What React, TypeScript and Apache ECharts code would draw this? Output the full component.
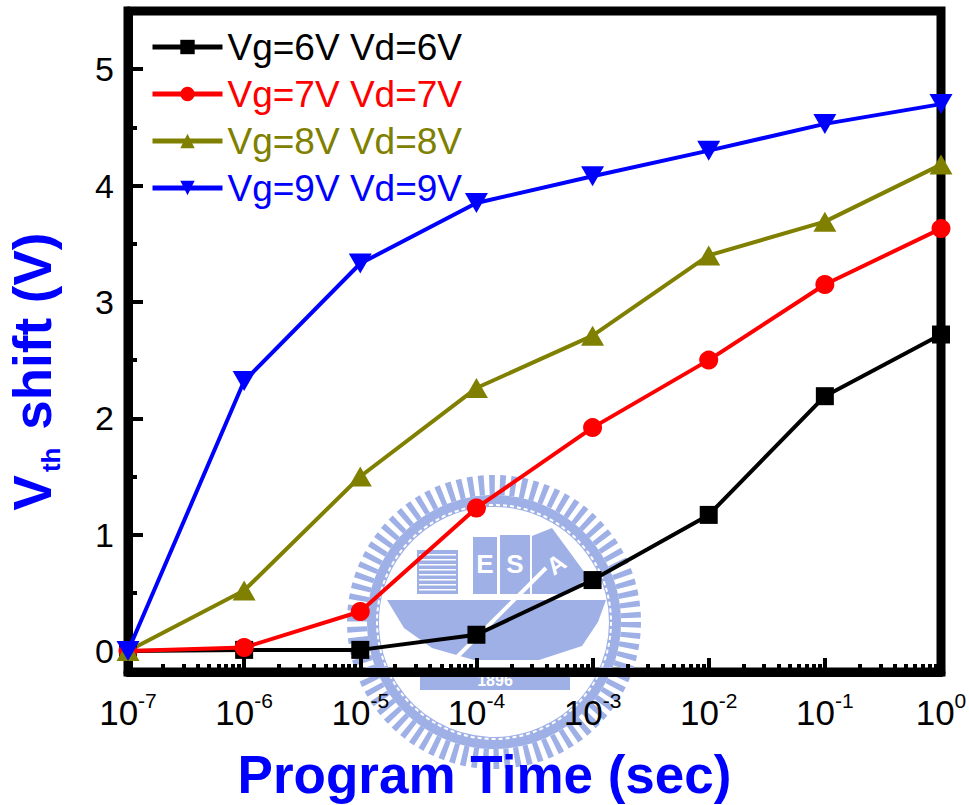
import React, { useEffect, useRef } from 'react';
import * as echarts from 'echarts';

// ---------- data ----------
const times = [1e-7, 1e-6, 1e-5, 1e-4, 1e-3, 1e-2, 1e-1, 1];
const seriesNames = ['Vg=6V Vd=6V', 'Vg=7V Vd=7V', 'Vg=8V Vd=8V', 'Vg=9V Vd=9V'];
const vg6 = [0, 0.01, 0.01, 0.14, 0.61, 1.17, 2.19, 2.72];
const vg7 = [0, 0.03, 0.34, 1.23, 1.92, 2.5, 3.15, 3.63];
const vg8 = [0, 0.52, 1.5, 2.26, 2.71, 3.4, 3.69, 4.18];
const vg9 = [0, 2.32, 3.33, 3.85, 4.08, 4.3, 4.53, 4.7];
const yTickLabels = [0, 1, 2, 3, 4, 5];
const yMinorTicks = [0.5, 1.5, 2.5, 3.5, 4.5];
const decadeExponents = [-7, -6, -5, -4, -3, -2, -1];
const minorMultipliers = [2, 3, 4, 5, 6, 7, 8, 9];

const colors = ['#000000', '#ff0000', '#808000', '#0000ff'];
const FONT = '"Liberation Sans", Arial, Helvetica, sans-serif';
const LOGO = '#9eb0e6';

const xMinorTicks: number[] = [];
decadeExponents.forEach((d) => minorMultipliers.forEach((k) => xMinorTicks.push(Math.log10(k) + d)));

function buildLogo() {
  const stripes = [0, 1, 2, 3, 4, 5, 6, 7].map((i) => ({
    type: 'rect',
    shape: { x: -75, y: -68 + i * 5, width: 37, height: 1.6 },
    style: { fill: '#ffffff' },
  }));
  return {
    type: 'group',
    x: 494,
    y: 622,
    z: -10,
    silent: true,
    children: [
      { type: 'circle', shape: { cx: 0, cy: 0, r: 137 }, style: { fill: 'none', stroke: LOGO, lineWidth: 20, lineDash: [5.5, 5] } },
      { type: 'circle', shape: { cx: 0, cy: 0, r: 121 }, style: { fill: 'none', stroke: LOGO, lineWidth: 12 } },
      { type: 'circle', shape: { cx: 0, cy: 0, r: 117 }, style: { fill: 'none', stroke: '#ffffff', lineWidth: 2, lineDash: [4, 3] } },
      { type: 'rect', shape: { x: -77, y: -72, width: 41, height: 44 }, style: { fill: LOGO } },
      ...stripes,
      { type: 'rect', shape: { x: -21, y: -85, width: 24, height: 57 }, style: { fill: LOGO } },
      { type: 'rect', shape: { x: 6, y: -87, width: 30, height: 59 }, style: { fill: LOGO } },
      { type: 'polygon', shape: { points: [[38, -86], [58, -94], [94, -45], [74, -28], [38, -28]] }, style: { fill: LOGO } },
      { type: 'text', x: -9, y: -58, style: { text: 'E', fill: '#ffffff', font: 'bold 26px ' + FONT, align: 'center', verticalAlign: 'middle' } },
      { type: 'text', x: 21, y: -58, style: { text: 'S', fill: '#ffffff', font: 'bold 26px ' + FONT, align: 'center', verticalAlign: 'middle' } },
      { type: 'text', x: 62, y: -58, rotation: 0.6, style: { text: 'A', fill: '#ffffff', font: 'bold 24px ' + FONT, align: 'center', verticalAlign: 'middle' } },
      { type: 'polygon', shape: { points: [[-107, -22], [112, -22], [104, 0], [88, 24], [45, 38], [-20, 38], [-62, 26], [-90, 6]] }, style: { fill: LOGO } },
      { type: 'line', shape: { x1: 52, y1: -54, x2: -54, y2: 52 }, style: { stroke: '#ffffff', lineWidth: 4 } },
      { type: 'rect', shape: { x: -74, y: 48, width: 150, height: 20 }, style: { fill: LOGO } },
      { type: 'text', x: 1, y: 58, style: { text: '1896', fill: '#ffffff', font: 'bold 16px ' + FONT, align: 'center', verticalAlign: 'middle' } },
    ],
  };
}

export default function App() {
  const ref = useRef<HTMLDivElement>(null);
  useEffect(() => {
    if (!ref.current) return;
    const chart = echarts.init(ref.current, null, { renderer: 'svg' });
    const values = [vg6, vg7, vg8, vg9];
    const symbols = ['rect', 'circle', 'triangle', 'triangle'];
    const symbolSizes: any[] = [18, 19, [23, 20], [23, 20]];
    const rotations = [0, 0, 0, 180];
    const option: any = {
      animation: false,
      backgroundColor: '#ffffff',
      textStyle: { fontFamily: FONT },
      grid: {
        left: 128,
        right: 28,
        top: 11,
        bottom: 133,
        containLabel: false,
        outerBoundsMode: 'none',
        show: true,
        borderColor: '#000',
        borderWidth: 9,
        backgroundColor: 'transparent',
      },
      legend: {
        orient: 'vertical',
        left: 145,
        top: 21,
        itemWidth: 70,
        itemHeight: 18,
        itemGap: 5,
        lineStyle: { width: 5 },
        textStyle: { fontSize: 37, fontFamily: FONT, lineHeight: 42 },
        data: seriesNames.map((n, i) => ({ name: n, textStyle: { color: colors[i] } })),
      },
      xAxis: [
        {
          type: 'log',
          logBase: 10,
          min: 1e-7,
          max: 1,
          interval: 1,
          position: 'bottom',
          axisLine: { show: true, onZero: false, lineStyle: { color: '#000', width: 9 } },
          axisTick: { show: true, inside: true, length: 14, lineStyle: { color: '#000', width: 4 } },
          splitLine: { show: false },
          axisLabel: {
            margin: 15,
            color: '#000',
            formatter: (v: number) => `{b|10}{s|${Math.round(Math.log10(v))}}`,
            rich: {
              b: { fontSize: 35, lineHeight: 50, fontFamily: FONT, color: '#000' },
              s: { fontSize: 21, lineHeight: 21, fontFamily: FONT, color: '#000', verticalAlign: 'top', padding: [3, 0, 0, 0] },
            },
          },
          name: 'Program Time (sec)',
          nameLocation: 'middle',
          nameGap: 76,
          nameTextStyle: { fontSize: 53, fontWeight: 'bold', color: '#0000ff', fontFamily: FONT, padding: [0, 100, 0, 0] },
        },
        {
          type: 'value',
          min: -7,
          max: 0,
          position: 'bottom',
          axisLine: { show: false, onZero: false },
          axisLabel: { show: false },
          splitLine: { show: false },
          axisTick: { show: true, inside: true, length: 8, customValues: xMinorTicks, lineStyle: { color: '#000', width: 4 } },
        },
      ],
      yAxis: [
        {
          type: 'value',
          min: -0.18,
          max: 5.5,
          position: 'left',
          axisLine: { show: true, onZero: false, lineStyle: { color: '#000', width: 9 } },
          axisTick: { show: true, inside: true, length: 15, customValues: yTickLabels, lineStyle: { color: '#000', width: 4 } },
          splitLine: { show: false },
          axisLabel: { customValues: yTickLabels, fontSize: 34, color: '#000', margin: 14, fontFamily: FONT },
          name: '{v|V}{t|th}{v| shift (V)}',
          nameLocation: 'middle',
          nameRotate: 90,
          nameGap: 64,
          nameTextStyle: {
            color: '#0000ff',
            padding: [0, 60, 0, 0],
            rich: {
              v: { fontSize: 53, fontWeight: 'bold', color: '#0000ff', fontFamily: FONT, lineHeight: 58, verticalAlign: 'top' },
              t: { fontSize: 26, fontWeight: 'bold', color: '#0000ff', fontFamily: FONT, lineHeight: 26, verticalAlign: 'bottom', padding: [46, 3, 0, 3] },
            },
          },
        },
        {
          type: 'value',
          min: -0.18,
          max: 5.5,
          position: 'left',
          axisLine: { show: false, onZero: false },
          axisLabel: { show: false },
          splitLine: { show: false },
          axisTick: { show: true, inside: true, length: 9, customValues: yMinorTicks, lineStyle: { color: '#000', width: 4 } },
        },
      ],
      graphic: [buildLogo()],
      series: seriesNames.map((n, i) => ({
        name: n,
        type: 'line',
        xAxisIndex: 0,
        yAxisIndex: 0,
        data: times.map((t, j) => [t, values[i][j]]),
        symbol: symbols[i],
        symbolSize: symbolSizes[i],
        symbolRotate: rotations[i],
        showAllSymbol: true,
        clip: false,
        lineStyle: { color: colors[i], width: 4 },
        itemStyle: { color: colors[i] },
        z: 5,
      })),
    };
    chart.setOption(option);
    return () => chart.dispose();
  }, []);
  return <div ref={ref} style={{ width: 969, height: 805, position: 'absolute', left: 0, top: 0 }} />;
}
